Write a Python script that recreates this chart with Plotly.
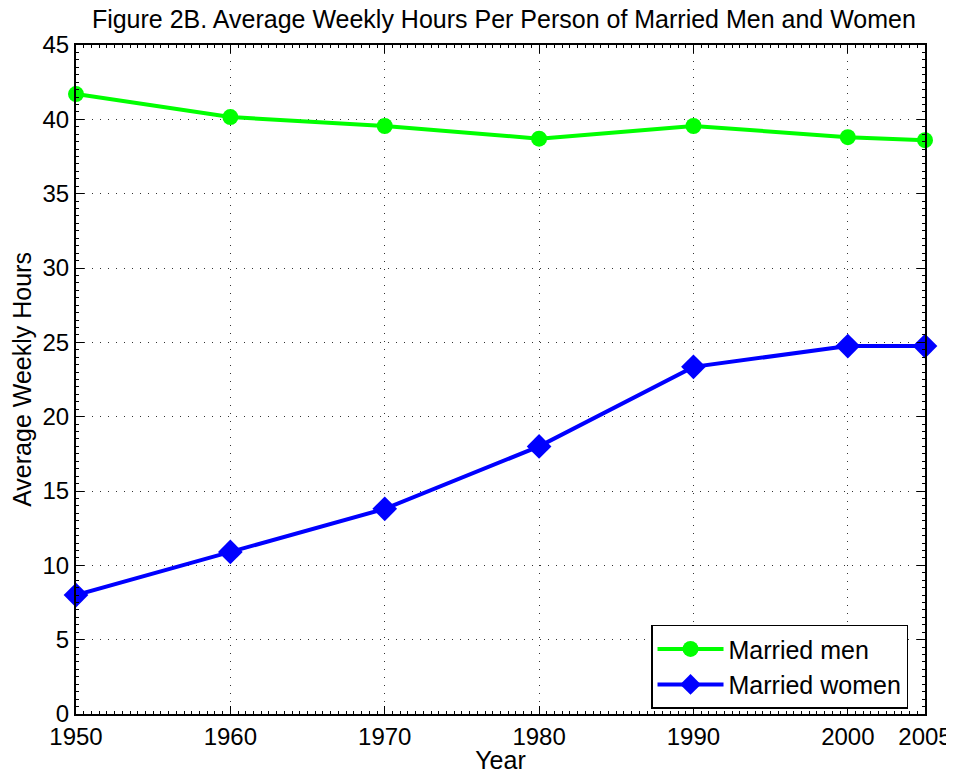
import plotly.graph_objects as go

years = [1950, 1960, 1970, 1980, 1990, 2000, 2005]
men = [41.7, 40.15, 39.55, 38.7, 39.55, 38.8, 38.6]
women = [8.0, 10.9, 13.8, 18.0, 23.35, 24.75, 24.75]
x_ticks = [1950, 1960, 1970, 1980, 1990, 2000, 2005]
y_ticks = [0, 5, 10, 15, 20, 25, 30, 35, 40, 45]

FONT = "Liberation Sans, Arial, Helvetica, sans-serif"
FS = 24

fig = go.Figure()
fig.add_trace(go.Scatter(
    x=years, y=men, name="Married men", mode="lines+markers",
    line=dict(color="#00ff00", width=4),
    marker=dict(symbol="circle", size=16, color="#00ff00"),
    cliponaxis=False,
))
fig.add_trace(go.Scatter(
    x=years, y=women, name="Married women", mode="lines+markers",
    line=dict(color="#0000ff", width=4),
    marker=dict(symbol="diamond", size=19, color="#0000ff"),
    cliponaxis=False,
))

axis_common = dict(
    showline=True, linecolor="black", linewidth=2, mirror="ticks",
    ticks="inside", ticklen=8, tickcolor="black", tickwidth=1,
    showgrid=True, gridcolor="#333333", griddash="1px,7px", gridwidth=1,
    zeroline=False, automargin=False,
    tickfont=dict(family=FONT, size=FS, color="black"),
)

fig.update_xaxes(
    range=[1950, 2005], tickvals=x_ticks, ticktext=[str(t) for t in x_ticks],
    title=dict(text="Year", font=dict(family=FONT, size=25, color="black"), standoff=0),
    minor=dict(ticks="inside", ticklen=3, dtick=0.5, tickcolor="black", showgrid=False),
    **axis_common,
)
fig.update_yaxes(
    range=[0, 45], tickvals=y_ticks,
    title=dict(text="Average Weekly Hours", font=dict(family=FONT, size=25, color="black"), standoff=6),
    minor=dict(ticks="inside", ticklen=3, dtick=0.5, tickcolor="black", showgrid=False),
    **axis_common,
)

# page body has an 8px margin; compensate so the plot lands where the reference has it
fig.update_layout(
    width=946, height=766,
    margin=dict(l=68, r=29, t=37, b=60),
    paper_bgcolor="white", plot_bgcolor="white",
    title=dict(text="Figure 2B. Average Weekly Hours Per Person of Married Men and Women",
               font=dict(family=FONT, size=25, color="black"),
               xref="paper", x=0.504, xanchor="center",
               yref="container", y=0.997, yanchor="top"),
    font=dict(family=FONT, color="black"),
    legend=dict(
        x=0.98, xanchor="right", y=0.008, yanchor="bottom",
        bgcolor="white", bordercolor="black", borderwidth=1.5,
        font=dict(family=FONT, size=25, color="black"),
        itemwidth=66, tracegroupgap=0,
    ),
    showlegend=True,
)

fig.write_html("out.html")
